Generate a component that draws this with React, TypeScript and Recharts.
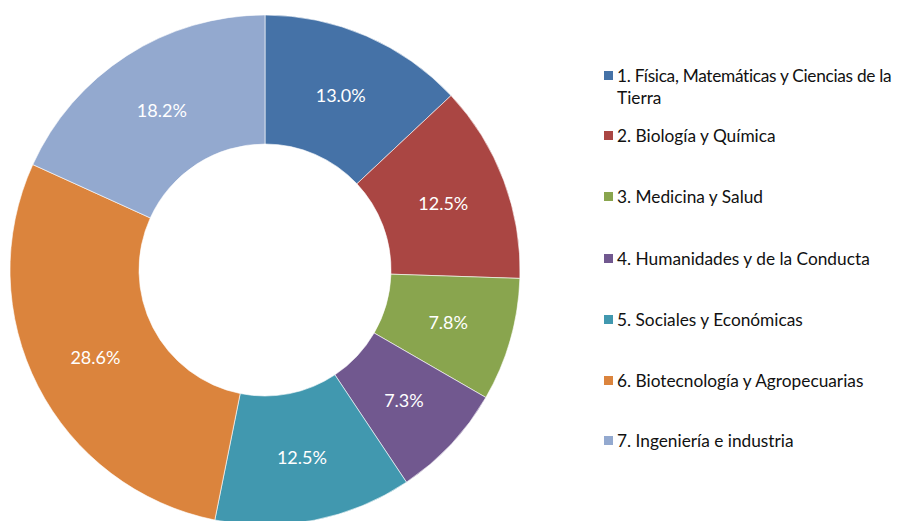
import React from "react";
import { PieChart, Pie, Cell, Legend } from "recharts";

const categories = [
  "1. Física, Matemáticas y Ciencias de la Tierra",
  "2. Biología y Química",
  "3. Medicina y Salud",
  "4. Humanidades y de la Conducta",
  "5. Sociales y Económicas",
  "6. Biotecnología y Agropecuarias",
  "7. Ingeniería e industria",
];
const values = [13.0, 12.5, 7.8, 7.3, 12.5, 28.6, 18.2];
const colors = ["#4572A7", "#AA4643", "#89A54E", "#71588F", "#4198AF", "#DB843D", "#93A9CF"];
const legendLines = [
  ["1. Física, Matemáticas y Ciencias de la", "Tierra"],
  ["2. Biología y Química"],
  ["3. Medicina y Salud"],
  ["4. Humanidades y de la Conducta"],
  ["5. Sociales y Económicas"],
  ["6. Biotecnología y Agropecuarias"],
  ["7. Ingeniería e industria"],
];
const legendTops = [0, 60, 121, 183, 244, 305, 365];

const data = categories.map((name, i) => ({ name, value: values[i] }));

const FONT = "Lato, 'Open Sans', sans-serif";
const RADIAN = Math.PI / 180;

const renderLabel = (props: any) => {
  const { cx, cy, midAngle, innerRadius, outerRadius, value } = props;
  const r = (innerRadius + outerRadius) / 2;
  const x = cx + r * Math.cos(-midAngle * RADIAN);
  const y = cy + r * Math.sin(-midAngle * RADIAN);
  return (
    <text
      x={x}
      y={y}
      fill="#ffffff"
      textAnchor="middle"
      dominantBaseline="central"
      fontFamily={FONT}
      fontSize={18}
    >
      {Number(value).toFixed(1)}%
    </text>
  );
};

const renderLegend = () => (
  <div style={{ position: "relative", width: 310, height: 400, fontFamily: FONT }}>
    {legendLines.map((lines, i) => (
      <div key={i} style={{ position: "absolute", top: legendTops[i], left: 0 }}>
        <div
          style={{
            position: "absolute",
            left: 0,
            top: 6,
            width: 9,
            height: 9,
            background: colors[i],
          }}
        />
        <div style={{ position: "absolute", left: 13, top: 0, whiteSpace: "nowrap", fontSize: 17.3, lineHeight: "22px", color: "#111111" }}>
          {lines.map((l, j) => (
            <div key={j} style={{ letterSpacing: i === 0 && j === 0 ? -0.3 : 0 }}>{l}</div>
          ))}
        </div>
      </div>
    ))}
  </div>
);

export default function App() {
  return (
    <PieChart width={898} height={513} margin={{ top: 0, right: 0, bottom: 0, left: 0 }}>
      <Pie
        data={data}
        dataKey="value"
        nameKey="name"
        cx={257}
        cy={262}
        innerRadius={126}
        outerRadius={255}
        startAngle={90}
        endAngle={-270}
        stroke="#ffffff"
        strokeWidth={0.6}
        label={renderLabel}
        labelLine={false}
        isAnimationActive={false}
      >
        {data.map((d, i) => (
          <Cell key={d.name} fill={colors[i]} />
        ))}
      </Pie>
      <Legend
        content={renderLegend}
        wrapperStyle={{ position: "absolute", left: 596, top: 57, width: 310 }}
      />
    </PieChart>
  );
}
